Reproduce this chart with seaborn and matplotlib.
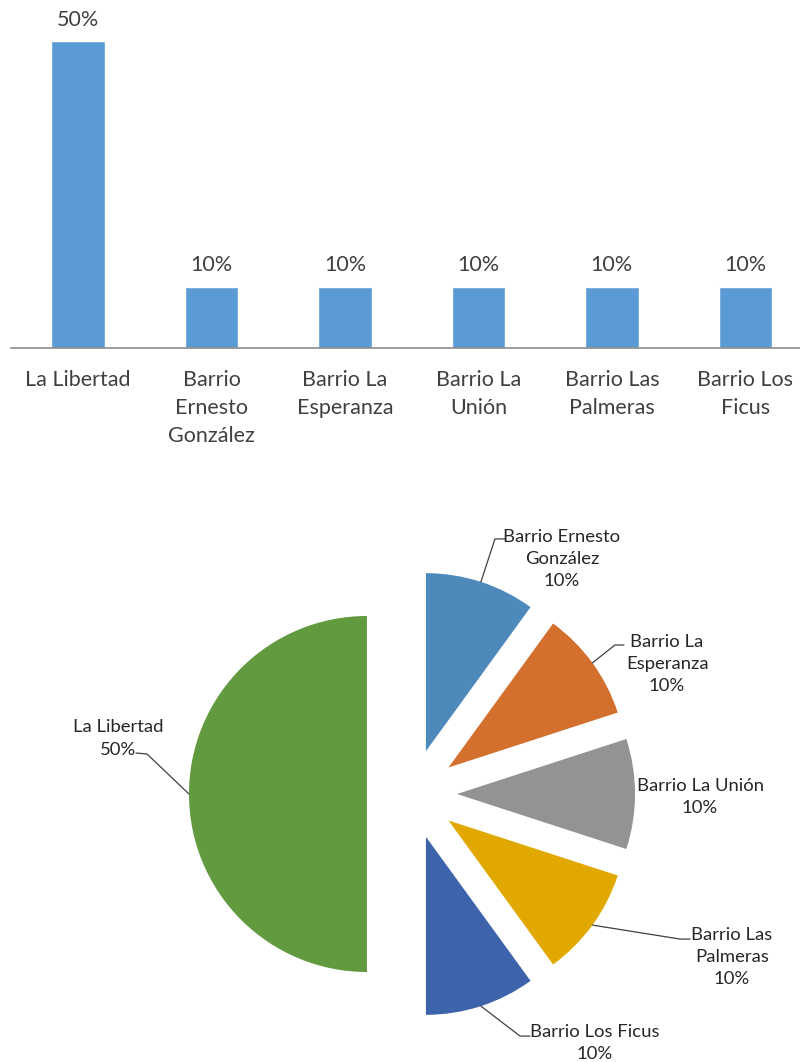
"""Distribución por barrios: barras y torta explotada."""

import matplotlib

matplotlib.use("Agg")
import matplotlib.pyplot as plt  # noqa: E402
import numpy as np  # noqa: E402
import seaborn as sns  # noqa: E402

sns.set_style("white")
plt.rcParams["font.family"] = ["Lato", "DejaVu Sans"]

# datos
barrios = [
    "La Libertad",
    "Barrio Ernesto González",
    "Barrio La Esperanza",
    "Barrio La Unión",
    "Barrio Las Palmeras",
    "Barrio Los Ficus",
]
porcentajes = [50, 10, 10, 10, 10, 10]
etiquetas_barras = [
    "La Libertad",
    "Barrio\nErnesto\nGonzález",
    "Barrio La\nEsperanza",
    "Barrio La\nUnión",
    "Barrio Las\nPalmeras",
    "Barrio Los\nFicus",
]
etiquetas_torta = [
    "La Libertad",
    "Barrio Ernesto\nGonzález",
    "Barrio La\nEsperanza",
    "Barrio La Unión",
    "Barrio Las\nPalmeras",
    "Barrio Los Ficus",
]

COLOR_BARRA = "#5B9BD5"
colores_torta = ["#629A3F", "#4E89BC", "#D4702E", "#939393", "#E1A900", "#3D63AB"]
TEXTO = "#404040"

fig = plt.figure(figsize=(8, 10.62), dpi=100)

# ---- barras ----
ax_bar = fig.add_axes([11 / 800, 1 - 348 / 1062, 789 / 800, 348 / 1062])
sns.barplot(x=barrios, y=porcentajes, color=COLOR_BARRA, saturation=1,
            width=0.4, ax=ax_bar)
ax_bar.set_xlim(-0.502, 5.41)
ax_bar.set_ylim(0, 50 * 348 / 307)
ax_bar.set_yticks([])
ax_bar.set_xlabel("")
ax_bar.set_ylabel("")
ax_bar.set_xticks(range(len(barrios)))
ax_bar.set_xticklabels(etiquetas_barras, fontsize=15.5, color=TEXTO,
                       linespacing=1.5)
ax_bar.tick_params(axis="x", length=0, pad=16)
for lado in ["top", "left", "right"]:
    ax_bar.spines[lado].set_visible(False)
ax_bar.spines["bottom"].set_color("#8c8c8c")
ax_bar.spines["bottom"].set_linewidth(1.2)
ax_bar.bar_label(ax_bar.containers[0], labels=[f"{v}%" for v in porcentajes],
                 padding=8, fontsize=15.5, color=TEXTO)

# ---- torta ----
R_PX = 178
ax_pie = fig.add_axes([0, 0, 1, 592 / 1062])
explode = [0.253] * len(porcentajes)
wedges, _ = ax_pie.pie(porcentajes, colors=colores_torta, explode=explode,
                       startangle=270, counterclock=False, radius=1,
                       wedgeprops=dict(linewidth=0))
ax_pie.set_xlim(-412 / R_PX, 388 / R_PX)
ax_pie.set_ylim(-(1062 - 794) / R_PX, (794 - 470) / R_PX)
ax_pie.set_aspect("equal")
ax_pie.axis("off")

# posición de cada etiqueta (codo de la guía, fin de la guía, centro del texto)
disposicion = [
    ((-1.489, 0.225), (-1.551, 0.230), (-1.652, 0.312)),
    ((0.466, 1.433), (0.522, 1.433), (0.843, 1.320)),
    ((1.140, 0.837), (1.191, 0.837), (1.433, 0.730)),
    (None, None, (1.618, -0.017)),
    ((1.506, -0.815), (1.562, -0.815), (1.798, -0.916)),
    ((0.607, -1.360), (0.663, -1.360), (1.028, -1.399)),
]
for w, nombre, valor, (codo, fin, pos) in zip(wedges, etiquetas_torta,
                                               porcentajes, disposicion):
    ang = np.deg2rad((w.theta1 + w.theta2) / 2)
    cx, cy = w.center
    inicio = (cx + w.r * np.cos(ang), cy + w.r * np.sin(ang))
    if codo is not None:
        ax_pie.plot([inicio[0], codo[0], fin[0]], [inicio[1], codo[1], fin[1]],
                    color="#404040", lw=0.9)
    ax_pie.text(pos[0], pos[1], f"{nombre}\n{valor}%", ha="center",
                va="center", fontsize=13.3, color="#262626", linespacing=1.47)

fig.savefig("out.png", dpi=100)
plt.close(fig)
